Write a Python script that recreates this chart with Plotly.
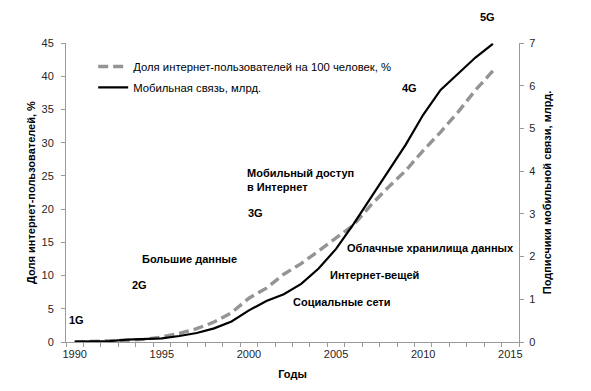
import plotly.graph_objects as go

years = list(range(1990, 2015))
internet_pct = [0.0, 0.05, 0.1, 0.25, 0.4, 0.75, 1.3, 2.0, 3.0, 4.4, 6.6, 8.1, 10.2, 11.8, 13.7,
                15.6, 17.6, 20.6, 23.3, 25.8, 28.8, 31.6, 34.6, 37.9, 40.8]
mobile_bn = [0.01, 0.015, 0.02, 0.055, 0.07, 0.086, 0.14, 0.21, 0.32, 0.48, 0.74, 0.96, 1.12, 1.36, 1.72,
             2.18, 2.76, 3.38, 4.03, 4.62, 5.32, 5.9, 6.28, 6.66, 6.98]

series_names = ["Доля интернет-пользователей на 100 человек, %", "Мобильная связь, млрд."]
x_tickvals = [1990, 1995, 2000, 2005, 2010, 2015]
y_left_ticks = [0, 5, 10, 15, 20, 25, 30, 35, 40, 45]
y_right_ticks = [0, 1, 2, 3, 4, 5, 6, 7]

labels = ["1G", "2G", "Большие данные", "3G", "Мобильный доступ<br>в Интернет", "4G", "5G",
          "Облачные хранилища данных", "Интернет-вещей", "Социальные сети"]
label_x = [1990.13, 1993.69, 1996.56, 2000.35, 1999.78, 2009.19, 2013.72, 2010.42, 2007.18, 2005.34]
label_y = [3.3, 8.6, 12.5, 19.4, 24.4, 38.2, 48.9, 14.2, 10.1, 6.0]
label_anchor = ["center", "center", "center", "center", "left", "center", "center", "center", "center", "center"]

FONT = "Liberation Sans"
TXT = "#262626"
AX = "#9a9a9a"

fig = go.Figure()
fig.add_trace(go.Scatter(x=years, y=internet_pct, mode="lines", name=series_names[0],
                         line=dict(color="#949494", width=3.4, dash="10px,5px"), yaxis="y",
                         legend="legend"))
fig.add_trace(go.Scatter(x=years, y=mobile_bn, mode="lines", name=series_names[1],
                         line=dict(color="#000000", width=2.2), yaxis="y2", legend="legend2"))

for t, x, y, a in zip(labels, label_x, label_y, label_anchor):
    if y > 45:
        yref, yy = "paper", y / 45.0
    else:
        yref, yy = "y", y
    fig.add_annotation(text="<b>%s</b>" % t, x=x, y=yy, xref="x", yref=yref, showarrow=False,
                       xanchor=a, yanchor="middle", align="left",
                       font=dict(family=FONT, size=11, color="#000000"))

leg_common = dict(xanchor="left", yanchor="top", bgcolor="rgba(0,0,0,0)",
                  font=dict(family=FONT, size=11.3, color="#000000"), itemwidth=30)

fig.update_layout(
    width=583, height=383,
    margin=dict(l=58, r=72, t=35, b=49),
    paper_bgcolor="white", plot_bgcolor="white",
    font=dict(family=FONT, size=11, color=TXT),
    showlegend=True,
    legend=dict(x=0.060, y=0.970, **leg_common),
    legend2=dict(x=0.060, y=0.900, **leg_common),
    xaxis=dict(range=[1989.5, 2015.5], tickvals=x_tickvals, ticks="", showgrid=False, zeroline=False,
               showline=True, linecolor=AX, linewidth=1, automargin=False, ticklabelstandoff=2,
               minor=dict(ticks="outside", tick0=1989.5, dtick=1, ticklen=4, tickcolor=AX, showgrid=False),
               title=dict(text="<b>Годы</b>", font=dict(size=11, color="#000000"), standoff=11),
               tickfont=dict(size=11, color=TXT)),
    yaxis=dict(range=[0, 45], tickvals=y_left_ticks, ticks="outside", ticklen=4, tickcolor=AX,
               showgrid=False, zeroline=False, showline=True, linecolor=AX, linewidth=1, automargin=False,
               ticklabelstandoff=5,
               title=dict(text="<b>Доля интернет-пользователей, %</b>", font=dict(size=11, color="#000000"), standoff=3),
               tickfont=dict(size=11, color=TXT)),
    yaxis2=dict(range=[0, 7], tickvals=y_right_ticks, overlaying="y", side="right", ticks="outside",
                ticklen=4, tickcolor=AX, showgrid=False, zeroline=False, showline=True, linecolor=AX,
                linewidth=1, automargin=False, ticklabelstandoff=3,
                title=dict(text="<b>Подписчики мобильной связи, млрд.</b>", font=dict(size=11, color="#000000"), standoff=8),
                tickfont=dict(size=11, color=TXT)),
)

fig.write_html("out.html")
